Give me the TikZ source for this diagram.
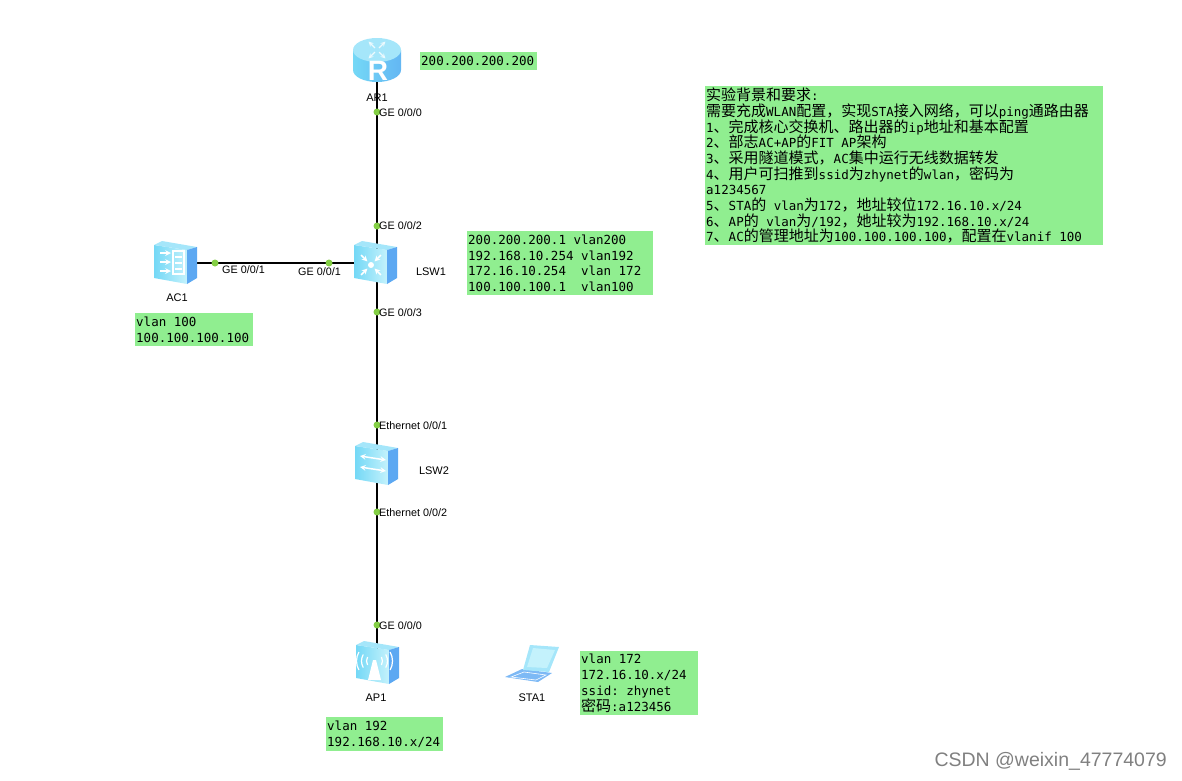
\documentclass[tikz,border=0pt]{standalone}
\usepackage{fontspec}
\setmainfont{Liberation Sans}
\setmonofont{DejaVu Sans Mono}
\newfontfamily\cjkfont[Scale=1.2]{Noto Sans CJK SC}
\newcommand{\zh}[1]{{\cjkfont #1}}
\newcommand{\cma}{\char"FF0C\relax}
\newcommand{\notefont}{\ttfamily\fontsize{12.5}{15.8}\selectfont\lineskiplimit=-20pt\relax}
\definecolor{notegreen}{HTML}{90EE90}
\definecolor{portgreen}{HTML}{84CF45}
\definecolor{iconpale}{HTML}{C4F2FC}
\definecolor{iconmid}{HTML}{74D8F6}
\definecolor{icontop}{HTML}{A5E6FA}
\definecolor{iconside}{HTML}{5CA8F2}
\tikzset{
  note/.style={fill=notegreen, anchor=north west, align=flush left, inner xsep=1pt, inner ysep=2pt,
    font=\notefont},
  portdot/.style={circle, fill=portgreen, inner sep=0pt, minimum size=7pt},
  port/.style={anchor=west, inner sep=0pt, font=\fontsize{10.8}{12}\selectfont},
  devlabel/.style={inner sep=0pt, font=\fontsize{11}{13}\selectfont},
  device/.style={inner sep=0pt, minimum width=44pt, minimum height=42pt},
  link/.style={line width=1.6pt},
  glyph/.style={white, line width=1.5pt},
  pics/cubeicon/.style={code={
    \shade[left color=iconmid, right color=iconpale] (-22,-18) -- (11,-13) -- (11,21) -- (-22,15) -- cycle;
    \fill[icontop] (-22,-18) -- (-14,-22) -- (21,-16) -- (11,-13) -- cycle;
    \fill[iconside] (11,-13) -- (21,-16) -- (21,15) -- (11,21) -- cycle;
  }},
  pics/routericon/.style={code={
    \shade[left color=iconmid, right color=iconside!70!iconmid] (-24,-11) -- (-24,9) arc[start angle=180, end angle=360, x radius=24, y radius=-12] -- (24,-11) -- cycle;
    \fill[icontop] (0,-11) ellipse[x radius=24, y radius=12];
    \foreach \a in {45,135,225,315}
      \draw[glyph, line width=1.2pt, -stealth, white!80!icontop] (\a:3) ++(0,-11) -- ++(\a:9);
    \node[inner sep=0pt, text=white, font=\bfseries\fontsize{28}{28}\selectfont] (rglyph) at (1,10) {R};
  }},
}
\begin{document}
\begin{tikzpicture}[x=1pt, y=-1pt]
  \useasboundingbox (0,0) rectangle (1182,780);
  % devices
  \node[device] (ar1) at (377,61) {};
  \node[device] (lsw1) at (377,263) {};
  \node[device] (lsw2) at (377,464) {};
  \node[device] (ap1) at (377,663) {};
  \node[device] (ac1) at (176,263) {};
  % links
  \draw[link] (ar1.center) -- (lsw1.center);
  \draw[link] (lsw1.center) -- (lsw2.center);
  \draw[link] (lsw2.center) -- (ap1.center);
  \draw[link] (ac1.center) -- (lsw1.center);
  % icons
  \pic at (ar1) {routericon};
  \pic at ([xshift=-1pt]lsw1) {cubeicon};
  \pic at (lsw2) {cubeicon};
  \pic at ([xshift=1pt]ap1) {cubeicon};
  \pic at (ac1) {cubeicon};
  \foreach \a in {45,135,225,315}
    \draw[glyph, -stealth] (371,265) ++(\a:14) -- ++(\a:-9);
  \fill[white] (371,265) circle (3);
  \foreach \d in {-9,0,9}
    \draw[glyph, -stealth] (160,262+\d) -- (171,262+\d);
  \draw[glyph, line width=1.2pt] (173,251) rectangle (184,274);
  \draw[glyph, line width=1.2pt] (175,257) -- (182,257) (175,263) -- (182,263) (175,269) -- (182,269);
  \draw[glyph, stealth-stealth] (360,456) -- (386,460);
  \draw[glyph, stealth-stealth] (360,467) -- (386,471);
  \fill[white] (373,660) -- (376,660) -- (381,680) -- (368,680) -- cycle;
  \foreach \r in {8,13,18} {
    \draw[white, line width=1.2pt] (374.5,661) ++(150:\r) arc[start angle=150, end angle=210, radius=\r];
    \draw[white, line width=1.2pt] (374.5,661) ++(30:\r) arc[start angle=30, end angle=-30, radius=\r];
  }
  % laptop
  \fill[iconside!80!white] (505,677) -- (522,669) -- (552,673) -- (538,682) -- cycle;
  \fill[icontop] (530,645) -- (559,647) -- (549,672) -- (523,670) -- cycle;
  \fill[iconpale] (533,648) -- (555,650) -- (547,668) -- (527,667) -- cycle;
  \draw[white, line width=.6pt] (511,677) -- (524,672) -- (546,675) -- (536,680) -- cycle;
  % ports
  \node[portdot] (p1) at (377,112) {};
  \node[portdot] (p2) at (377,226) {};
  \node[portdot] (p3) at (377,312) {};
  \node[portdot] (p4) at (377,425) {};
  \node[portdot] (p5) at (377,512) {};
  \node[portdot] (p6) at (377,625) {};
  \node[portdot] (p7) at (215,263) {};
  \node[portdot] (p8) at (329,263) {};
  \node[port] (l1) at (379,113) {GE 0/0/0};
  \node[port] (l2) at (379,226) {GE 0/0/2};
  \node[port] (l3) at (379,313) {GE 0/0/3};
  \node[port] (l4) at (379,426) {Ethernet 0/0/1};
  \node[port] (l5) at (379,513) {Ethernet 0/0/2};
  \node[port] (l6) at (379,626) {GE 0/0/0};
  \node[port] (l7) at (222,270) {GE 0/0/1};
  \node[port] (l8) at (298,272) {GE 0/0/1};
  % names
  \node[devlabel] (n1) at (377,98) {AR1};
  \node[devlabel] (n2) at (177,298) {AC1};
  \node[devlabel] (n3) at (431,272) {LSW1};
  \node[devlabel] (n4) at (434,471) {LSW2};
  \node[devlabel] (n5) at (376,698) {AP1};
  \node[devlabel] (n6) at (532,698) {STA1};
  % notes
  \node[note, text width=115pt, minimum height=18pt] (addr) at (420,52) {200.200.200.200};
  \node[note, text width=184pt, minimum height=64pt] (addrlsw) at (467,231)
    {200.200.200.1 vlan200\\192.168.10.254 vlan192\\172.16.10.254 \ vlan 172\\100.100.100.1 \ vlan100};
  \node[note, text width=116pt, minimum height=33pt] (addrac) at (135,313) {vlan 100\\100.100.100.100};
  \node[note, text width=115pt, minimum height=34pt] (addrap) at (326,717) {vlan 192\\192.168.10.x/24};
  \node[note, text width=116pt, minimum height=64pt] (addrsta) at (580,651)
    {vlan 172\\172.16.10.x/24\\ssid: zhynet\\\zh{密码}:a123456};
  \node[note, inner ysep=0pt, text width=396pt, minimum height=159pt] (task) at (705,86)
    {\baselineskip=15.65pt\relax
     \zh{实验背景和要求}:\\
     \zh{需要充成}WLAN\zh{配置\cma 实现}STA\zh{接入网络\cma 可以}ping\zh{通路由器}\\
     1\zh{、完成核心交换机、路出器的}ip\zh{地址和基本配置}\\
     2\zh{、部志}AC+AP\zh{的}FIT AP\zh{架构}\\
     3\zh{、采用隧道模式\cma}AC\zh{集中运行无线数据转发}\\
     4\zh{、用户可扫推到}ssid\zh{为}zhynet\zh{的}wlan\zh{\cma 密码为}\\
     a1234567\\
     5\zh{、}STA\zh{的} vlan\zh{为}172\zh{\cma 地址较位}172.16.10.x/24\\
     6\zh{、}AP\zh{的} vlan\zh{为}/192\zh{\cma 她址较为}192.168.10.x/24\\
     7\zh{、}AC\zh{的管理地址为}100.100.100.100\zh{\cma 配置在}vlanif 100\par\vspace*{3pt}};
  \node[anchor=east, inner sep=0pt, text=black!50, font=\fontsize{19.5}{22}\selectfont] (mark) at (1167,761) {CSDN @weixin\_47774079};
\end{tikzpicture}
\end{document}
